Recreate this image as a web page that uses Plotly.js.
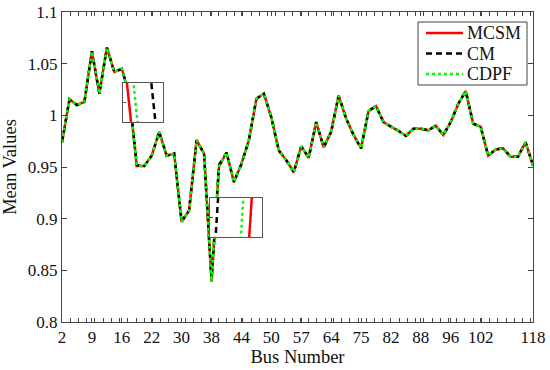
<!DOCTYPE html>
<html>
<head>
<meta charset="utf-8">
<script src="https://cdn.plot.ly/plotly-3.0.1.min.js"></script>
<style>
  body { margin: 0; background: #fff; }
  #chart { width: 550px; height: 370px; }
</style>
</head>
<body>
<div id="chart"></div>
<script>
// bus labels shown on the x axis and the point index they sit on
var busTicks = ["2", "9", "16", "22", "30", "38", "44", "50", "57", "64", "75", "82", "88", "96", "102", "118"];
var tickIdx = [0, 4, 8, 12, 16, 20, 24, 28, 32, 36, 40, 44, 48, 52, 56, 63];

// mean values per load bus (64 points)
var mcsm = [0.974, 1.0155, 1.010, 1.013, 1.062, 1.021, 1.0655, 1.042, 1.045, 1.020,
  0.951, 0.951, 0.961, 0.984, 0.961, 0.963, 0.897, 0.908, 0.976, 0.963,
  0.839, 0.950, 0.964, 0.9355, 0.953, 0.976, 1.016, 1.021, 0.998, 0.966,
  0.9565, 0.945, 0.970, 0.959, 0.9935, 0.969, 0.984, 1.019, 0.997, 0.981,
  0.968, 1.004, 1.009, 0.9935, 0.989, 0.985, 0.980, 0.987, 0.987, 0.9855,
  0.990, 0.981, 0.9935, 1.011, 1.0235, 0.992, 0.989, 0.961, 0.967, 0.968,
  0.960, 0.960, 0.974, 0.9515];
var cm = [0.974, 1.0155, 1.010, 1.013, 1.062, 1.021, 1.0655, 1.042, 1.045, 1.0209,
  0.9519, 0.951, 0.961, 0.984, 0.961, 0.963, 0.897, 0.908, 0.976, 0.963,
  0.841, 0.952, 0.964, 0.9355, 0.953, 0.976, 1.016, 1.021, 0.998, 0.966,
  0.9565, 0.945, 0.970, 0.959, 0.9935, 0.969, 0.984, 1.019, 0.997, 0.981,
  0.968, 1.004, 1.009, 0.9935, 0.989, 0.985, 0.980, 0.987, 0.987, 0.9855,
  0.990, 0.981, 0.9935, 1.011, 1.0235, 0.992, 0.989, 0.961, 0.967, 0.968,
  0.960, 0.960, 0.974, 0.9515];
var cdpf = [0.974, 1.0155, 1.010, 1.013, 1.062, 1.021, 1.0655, 1.042, 1.045, 1.02024,
  0.95124, 0.951, 0.961, 0.984, 0.961, 0.963, 0.897, 0.908, 0.976, 0.963,
  0.8395, 0.9505, 0.964, 0.9355, 0.953, 0.976, 1.016, 1.021, 0.998, 0.966,
  0.9565, 0.945, 0.970, 0.959, 0.9935, 0.969, 0.984, 1.019, 0.997, 0.981,
  0.968, 1.004, 1.009, 0.9935, 0.989, 0.985, 0.980, 0.987, 0.987, 0.9855,
  0.990, 0.981, 0.9935, 1.011, 1.0235, 0.992, 0.989, 0.961, 0.967, 0.968,
  0.960, 0.960, 0.974, 0.9515];
var seriesNames = ["MCSM", "CM", "CDPF"];

var idx = mcsm.map((v, i) => i);

var font = "Liberation Serif, Times New Roman, serif";
var axisColor = "#444";
var styles = {
  MCSM: { color: "#ff0000", width: 2.5, dash: "solid" },
  CM: { color: "#000000", width: 2.5, dash: "6px,4px" },
  CDPF: { color: "#00ff00", width: 2.5, dash: "dot" }
};

// plot box in pixels (matches the margins below)
var L = 62, R = 533, T = 12, B = 322;
function px2x(p) { return (p - L) / (R - L); }
function px2y(p) { return (B - p) / (B - T); }

// zoomed window around a steep segment: k = segment start, relX = where
// the MCSM line should sit inside the box, W/H = box size in px
var zoom = 250;
function insetRange(k, relX, W, H) {
  var xc = k + 0.5;
  var yc = (mcsm[k] + mcsm[k + 1]) / 2;
  var pxIdx = (R - L) / 63 * zoom;
  var pxVal = (B - T) / 0.3 * zoom;
  return {
    x: [xc - relX / pxIdx, xc + (W - relX) / pxIdx],
    y: [yc - H / 2 / pxVal, yc + H / 2 / pxVal]
  };
}
var in1 = insetRange(9, 6, 40, 39);
var in2 = insetRange(20, 40.5, 52, 39);

function series(y, name, xa, ya) {
  return {
    x: idx, y: y, name: name, type: "scatter", mode: "lines",
    xaxis: xa, yaxis: ya, showlegend: false,
    line: Object.assign({ simplify: false }, styles[name])
  };
}

var data = [];
[["x", "y"], ["x2", "y2"], ["x3", "y3"]].forEach(function (ax) {
  data.push(series(mcsm, "MCSM", ax[0], ax[1]));
  data.push(series(cm, "CM", ax[0], ax[1]));
  data.push(series(cdpf, "CDPF", ax[0], ax[1]));
});

function insetAxis(range, domain, anchor, ticks) {
  return {
    domain: domain, range: range, anchor: anchor,
    showgrid: false, zeroline: false, showticklabels: false,
    showline: true, mirror: true, linecolor: "#555", linewidth: 1,
    ticks: ticks ? "inside" : "", ticklen: 3, nticks: 3, tickcolor: "#555"
  };
}

// legend box drawn by hand so it keeps the tight MATLAB spacing
var shapes = [{
  type: "rect", xref: "paper", yref: "paper",
  x0: px2x(418), x1: px2x(527), y0: px2y(85), y1: px2y(22),
  fillcolor: "#fff", line: { color: "#444", width: 1 }, layer: "above"
}];
var annotations = [];
seriesNames.forEach(function (name, i) {
  var yy = px2y(33 + i * 20.5);
  shapes.push({
    type: "line", xref: "paper", yref: "paper",
    x0: px2x(426), x1: px2x(463), y0: yy, y1: yy,
    line: { color: styles[name].color, width: 2.5, dash: styles[name].dash }, layer: "above"
  });
  annotations.push({
    xref: "paper", yref: "paper", x: px2x(465), y: yy,
    xanchor: "left", yanchor: "middle", showarrow: false,
    text: name, font: { family: font, size: 18, color: "#111" }
  });
});

var layout = {
  width: 550, height: 370,
  margin: { l: L, r: 550 - R, t: T, b: 370 - B },
  paper_bgcolor: "#fff", plot_bgcolor: "#fff",
  font: { family: font, size: 17, color: "#111" },
  showlegend: false,
  xaxis: {
    range: [0, 63],
    tickmode: "array", tickvals: tickIdx, ticktext: busTicks,
    ticks: "inside", ticklen: 4, tickcolor: axisColor,
    minor: { ticks: "inside", ticklen: 4, dtick: 1.1, tick0: 0, tickcolor: axisColor, showgrid: false },
    showline: true, mirror: "allticks", linecolor: axisColor, linewidth: 1,
    showgrid: false, zeroline: false,
    tickfont: { size: 17 },
    title: { text: "Bus Number", font: { size: 18.5 }, standoff: 3 }
  },
  yaxis: {
    range: [0.8, 1.1], dtick: 0.05, tick0: 0.8,
    ticks: "inside", ticklen: 5, tickcolor: axisColor,
    showline: true, mirror: "allticks", linecolor: axisColor, linewidth: 1,
    showgrid: false, zeroline: false,
    tickfont: { size: 17 },
    title: { text: "Mean Values", font: { size: 18.5 }, standoff: 6 }
  },
  xaxis2: insetAxis(in1.x, [px2x(123), px2x(163)], "y2", false),
  yaxis2: insetAxis(in1.y, [px2y(122), px2y(83)], "x2", true),
  xaxis3: insetAxis(in2.x, [px2x(210), px2x(262)], "y3", false),
  yaxis3: insetAxis(in2.y, [px2y(237), px2y(198)], "x3", true),
  shapes: shapes,
  annotations: annotations
};

Plotly.newPlot("chart", data, layout, { displayModeBar: false, staticPlot: true });
</script>
</body>
</html>
